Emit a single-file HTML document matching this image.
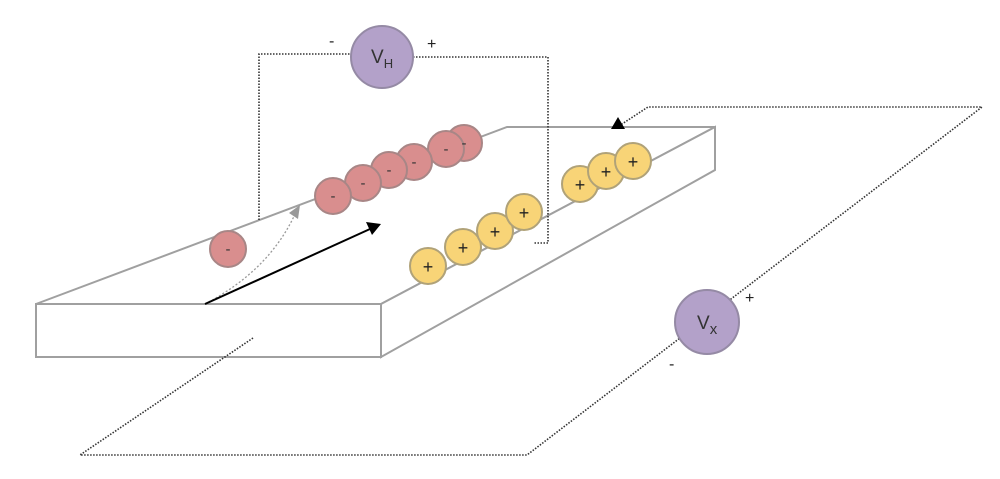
<!DOCTYPE html>
<html><head><style>body{margin:0;background:#fff}svg{display:block}text{font-family:"Liberation Sans",sans-serif}</style></head>
<body>
<svg width="1000" height="479" viewBox="0 0 1000 479" xmlns="http://www.w3.org/2000/svg">
<g fill="#fff" stroke="#a0a0a0" stroke-width="2">
<polygon points="36,304 507,127 715,127 381,304"/>
<polygon points="381,304 715,127 715,170 381,357"/>
<rect x="36" y="304" width="345" height="53"/>
</g>
<g fill="none" stroke="#333" stroke-width="1.6" stroke-dasharray="1.5,1.5">
<polyline points="253,338 80,455 527,455 982,107 648,107 622,124"/>
<polyline points="259,220 259,54 352,54"/>
<polyline points="413,57 548,57 548,243 534,243"/>
</g>
<polygon points="611,129 625,129 618,117" fill="#000"/>
<path d="M205,304 Q270,270 296,212" fill="none" stroke="#999" stroke-width="1.3" stroke-dasharray="2,2"/>
<polygon points="300,205 298,219 289,213" fill="#999"/>
<line x1="205" y1="304" x2="370" y2="229" stroke="#000" stroke-width="2"/>
<polygon points="381,224 366,222 372,235" fill="#000"/>
<g fill="#d98e8e" stroke="#a88686" stroke-width="2">
<circle cx="228" cy="249" r="18"/>
<circle cx="464" cy="143" r="18"/><circle cx="446" cy="149" r="18"/>
<circle cx="414" cy="162" r="18"/><circle cx="389" cy="170" r="18"/>
<circle cx="363" cy="183" r="18"/><circle cx="333" cy="196" r="18"/>
</g>
<g font-size="15" fill="#333" text-anchor="middle">
<text x="228" y="254">-</text><text x="464" y="148">-</text><text x="446" y="154">-</text>
<text x="414" y="167">-</text><text x="389" y="175">-</text><text x="363" y="188">-</text><text x="333" y="201">-</text>
</g>
<g fill="#f8d477" stroke="#b0a278" stroke-width="2">
<circle cx="428" cy="266" r="18"/><circle cx="463" cy="247" r="18"/>
<circle cx="495" cy="231" r="18"/><circle cx="524" cy="212" r="18"/>
<circle cx="580" cy="184" r="18"/><circle cx="606" cy="171" r="18"/><circle cx="633" cy="161" r="18"/>
</g>
<g font-size="18" fill="#222" text-anchor="middle">
<text x="428" y="273">+</text><text x="463" y="254">+</text><text x="495" y="238">+</text><text x="524" y="219">+</text>
<text x="580" y="191">+</text><text x="606" y="178">+</text><text x="633" y="168">+</text>
</g>
<g fill="#b3a1c9" stroke="#958aa5" stroke-width="2">
<circle cx="382" cy="57" r="31"/><circle cx="707" cy="322" r="32"/>
</g>
<text x="371" y="63" font-size="19" fill="#333">V<tspan font-size="13" dy="5">H</tspan></text>
<text x="697" y="329" font-size="19" fill="#333">V<tspan font-size="15" dy="5">x</tspan></text>
<g font-size="16" fill="#222">
<text x="329" y="46">-</text><text x="427" y="49">+</text>
<text x="745" y="303">+</text><text x="669" y="369">-</text>
</g>
</svg>
</body></html>
